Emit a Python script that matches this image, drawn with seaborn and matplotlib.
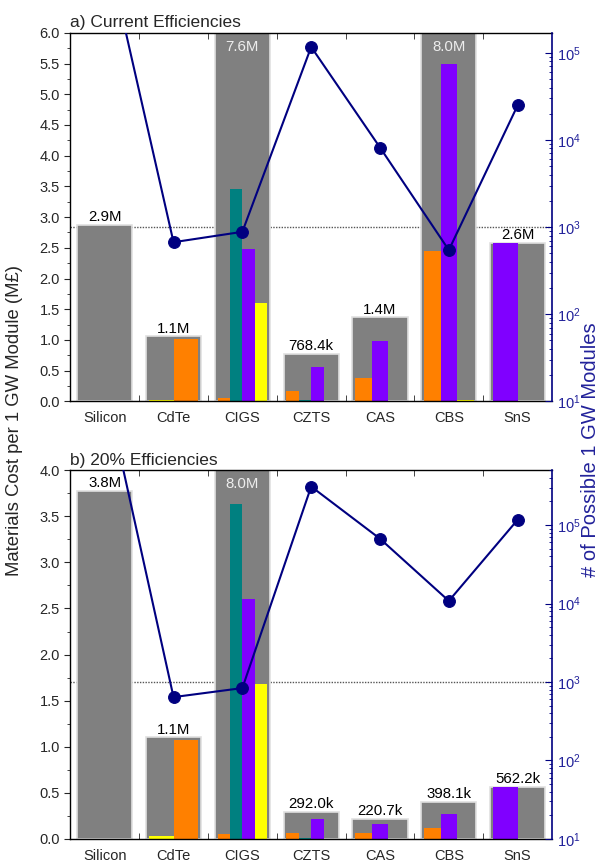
import numpy as np
import pandas as pd
import matplotlib
matplotlib.use("Agg")
import matplotlib.pyplot as plt
from matplotlib.ticker import MultipleLocator, LogLocator, NullFormatter
import seaborn as sns


# ---------------- DATA ---------------- #

categories = ["Silicon", "CdTe", "CIGS", "CZTS", "CAS", "CBS", "SnS"]

# colour of every element slot inside each grey bar (left to right)
slot_colors = [
    [],
    ["yellow", "orange"],
    ["orange", "teal", "purple", "yellow"],
    ["orange", "teal", "purple", "yellow"],
    ["orange", "purple", "yellow"],
    ["orange", "purple", "yellow"],
    ["purple", "yellow"],
]

# a) current efficiencies
current_total = [2.87, 1.06, 7.6, 0.7684, 1.37, 8.0, 2.58]
current_parts = [
    [],
    [0.03, 1.02],
    [0.05, 3.45, 2.48, 1.60],
    [0.17, 0.03, 0.56, 0.0],
    [0.38, 0.99, 0.0],
    [2.45, 5.50, 0.02],
    [2.58, 0.0],
]
current_modules = [2.0e6, 671, 883, 1.17e5, 8.2e3, 545, 2.5e4]

# b) 20% efficiencies
eff20_total = [3.78, 1.10, 8.0, 0.2920, 0.2207, 0.3981, 0.5622]
eff20_parts = [
    [],
    [0.03, 1.07],
    [0.05, 3.63, 2.60, 1.68],
    [0.06, 0.01, 0.21, 0.0],
    [0.06, 0.16, 0.0],
    [0.12, 0.27, 0.0],
    [0.56, 0.0],
]
eff20_modules = [6.0e6, 641, 836, 3.1e5, 6.7e4, 1.08e4, 1.17e5]

REF_MODULES = 1e3

# ---------------- STYLE ---------------- #

sns.set_style("ticks")
plt.rcParams["font.family"] = ["Liberation Sans", "DejaVu Sans"]

PALETTE = {"orange": "#FF8000", "teal": "#008080",
           "purple": "#8000FF", "yellow": "#FFFF00"}
GREY = "#808080"
NAVY = "#000080"
NAVY_TEXT = "#22229A"


def cost_label(v):
    if v >= 1:
        return f"{v:.1f}M"
    return f"{v * 1000:.1f}k"


def draw_panel(ax, title, totals, parts, modules, ymax, mod_lim):
    n = len(categories)

    # dotted reference line at 10^3 modules (right axis), drawn behind bars
    frac = (np.log10(REF_MODULES) - np.log10(mod_lim[0])) / \
           (np.log10(mod_lim[1]) - np.log10(mod_lim[0]))
    ax.axhline(frac * ymax, color="#555555", ls=(0, (1, 1)), lw=1, zorder=0.5)

    df = pd.DataFrame({"cat": categories, "total": totals})
    sns.barplot(data=df, x="cat", y="total", ax=ax, color=GREY, saturation=1,
                width=0.8, edgecolor="#E0E0E0", linewidth=1.2, zorder=1)

    # element sub-bars
    inner = 0.72
    for i, (vals, cols) in enumerate(zip(parts, slot_colors)):
        if not vals:
            continue
        w = inner / len(vals)
        xs = [i - inner / 2 + (k + 0.5) * w for k in range(len(vals))]
        ax.bar(xs, vals, width=w, color=[PALETTE[c] for c in cols],
               linewidth=0, zorder=2)

    # value labels
    for i, v in enumerate(totals):
        if v > ymax:
            ax.annotate(cost_label(v), (i, ymax), xytext=(0, -5),
                        textcoords="offset points", ha="center", va="top",
                        fontsize=10.8, color="#EDEDED", zorder=3)
        else:
            ax.annotate(cost_label(v), (i, v), xytext=(0, 0.5),
                        textcoords="offset points", ha="center", va="bottom",
                        fontsize=10.8, color="black", zorder=3)

    ax.set_ylim(0, ymax)
    ax.set_xlim(-0.5, n - 0.5)
    ax.yaxis.set_major_locator(MultipleLocator(0.5))
    ax.yaxis.set_minor_locator(MultipleLocator(0.25))
    ax.set_xticks(range(n))
    ax.set_xticklabels(categories)
    ax.set_xticks(np.arange(n - 1) + 0.5, minor=True)
    ax.set_xlabel("")
    ax.set_ylabel("")
    ax.tick_params(axis="x", which="major", length=0, labelsize=10.5, pad=7)
    ax.tick_params(axis="x", which="minor", direction="in", length=4,
                   top=True, bottom=True)
    ax.tick_params(axis="y", which="major", direction="out", length=4,
                   labelsize=10.5)
    ax.tick_params(axis="y", which="minor", direction="out", length=2.5)
    ax.yaxis.set_major_formatter(plt.FormatStrFormatter("%.1f"))
    ax.spines["right"].set_visible(False)
    for s in ["left", "top", "bottom"]:
        ax.spines[s].set_linewidth(1.0)
        ax.spines[s].set_color("black")
    ax.set_title(title, loc="left", fontsize=12.5, pad=4)

    # right axis: number of possible modules
    tw = ax.twinx()
    tw.set_yscale("log")
    sns.lineplot(x=np.arange(n), y=modules, ax=tw, color=NAVY, lw=1.5,
                 marker="o", markersize=8.5, markeredgecolor=NAVY)
    tw.set_ylim(*mod_lim)
    ax.set_xlim(-0.5, n - 0.5)
    tw.yaxis.set_major_locator(LogLocator(base=10))
    tw.yaxis.set_minor_locator(LogLocator(base=10, subs=np.arange(2, 10)))
    tw.yaxis.set_minor_formatter(NullFormatter())
    tw.tick_params(axis="y", which="major", direction="in", length=5,
                   color=NAVY, labelcolor=NAVY_TEXT, labelsize=10.5)
    tw.tick_params(axis="y", which="minor", direction="in", length=2.5,
                   color=NAVY)
    tw.spines["right"].set_color(NAVY)
    tw.spines["right"].set_linewidth(1.2)
    for s in ["left", "top", "bottom"]:
        tw.spines[s].set_visible(False)
    tw.set_ylabel("")
    tw.set_xlabel("")
    return tw


fig, (ax_a, ax_b) = plt.subplots(2, 1, figsize=(6.06, 8.63), dpi=100)
fig.subplots_adjust(left=0.116, right=0.911, top=0.962, bottom=0.028,
                    hspace=0.187)

draw_panel(ax_a, "a) Current Efficiencies", current_total, current_parts,
           current_modules, 6.0, (10, 1.7e5))
draw_panel(ax_b, "b) 20% Efficiencies", eff20_total, eff20_parts,
           eff20_modules, 4.0, (10, 5.0e5))

fig.text(0.024, 0.513, "Materials Cost per 1 GW Module (M£)", rotation=90,
         ha="center", va="center", fontsize=13.3)
fig.text(0.974, 0.479, "# of Possible 1 GW Modules", rotation=90,
         ha="center", va="center", fontsize=14.5, color=NAVY_TEXT)

fig.savefig("out.png", dpi=100)
